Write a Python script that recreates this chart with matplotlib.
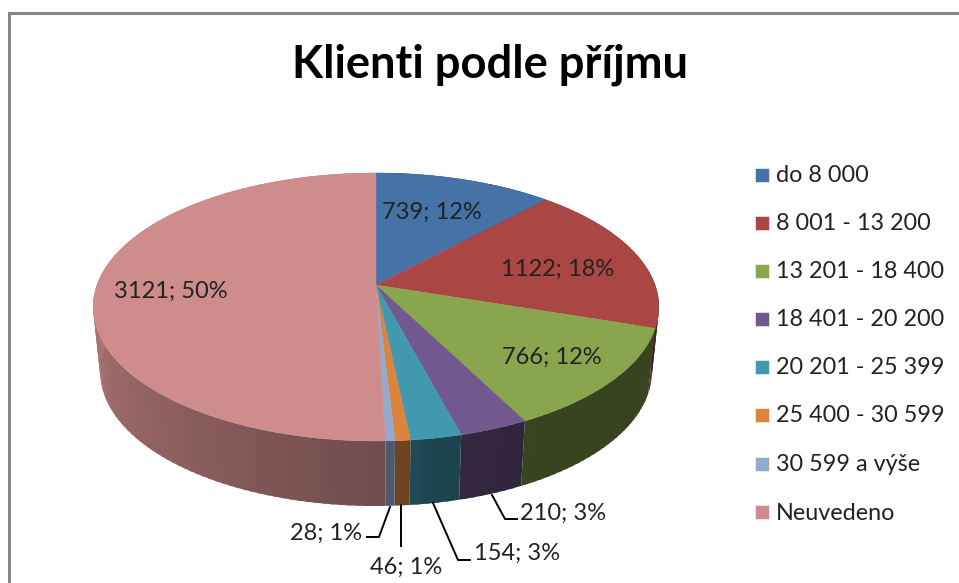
import numpy as np
import matplotlib
matplotlib.use('Agg')
import matplotlib.pyplot as plt
from matplotlib.patches import Rectangle
from matplotlib.colors import to_rgb

title = 'Klienti podle příjmu'
kategorie = ['do 8 000', '8 001 - 13 200', '13 201 - 18 400', '18 401 - 20 200',
             '20 201 - 25 399', '25 400 - 30 599', '30 599 a výše', 'Neuvedeno']
klienti = [739, 1122, 766, 210, 154, 46, 28, 3121]
procenta = [12, 18, 12, 3, 3, 1, 1, 50]
barvy = ['#4572A7', '#AA4643', '#89A54E', '#71588F', '#4198AF', '#DB843D', '#93A9CF', '#CF8C8C']

# label centres, pixels
label_pos = [(432, 212), (558, 269), (552, 357), (563, 513),
             (517, 553), (406, 567), (326, 533), (171, 291)]
# leader lines of the small slices
leaders = {3: [(492, 495), (505, 519), (517, 519)],
           4: [(433, 503), (458, 560), (470, 560)],
           5: [(401, 505), (401, 546)],
           6: [(390, 507), (379, 537), (367, 537)]}

legend_y = [174.5, 222.5, 270.5, 319, 367, 415, 463.5, 512]

# pie geometry in pixels
cx, cy = 376, 285
rx, ry = 279, 130.4
persp = 0.164
depth = 65
bottom_scale = 0.975


def top_rim(theta):
    # theta clockwise from the top, small perspective so the back looks shorter
    w = 1 + persp * np.cos(theta)
    return cx + rx * np.sin(theta) / w, cy - ry * np.cos(theta) / w


def side_shade(theta):
    return np.interp(np.degrees(theta), [100, 150, 170, 180, 275], [0.41, 0.41, 0.45, 0.55, 0.86])


fig = plt.figure(figsize=(9.59, 5.83), dpi=100)
ax = fig.add_axes([0, 0, 1, 1])
ax.set_xlim(0, 959)
ax.set_ylim(583, 0)
ax.axis('off')

# chart border, only left and top are in the crop
ax.plot([9, 9, 959], [583, 13, 13], color='#868686', lw=2.2, solid_joinstyle='miter')

hranice = np.cumsum([0] + klienti) / sum(klienti) * 2 * np.pi

# walls first, the top covers the back part
krok = np.radians(1.5)
for i in range(len(klienti)):
    n = max(int((hranice[i + 1] - hranice[i]) / krok), 1)
    t = np.linspace(hranice[i], hranice[i + 1], n + 1)
    for a, b in zip(t[:-1], t[1:]):
        # each piece runs a bit under the next one, no white seams
        konec = min(b + krok / 2, hranice[i + 1])
        s = np.linspace(a, konec, 4)
        x, y = top_rim(s)
        x2 = cx + (x - cx) * bottom_scale
        c = np.array(to_rgb(barvy[i])) * side_shade((a + b) / 2)
        ax.fill(np.r_[x, x2[::-1]], np.r_[y, (y + depth)[::-1]], facecolor=c,
                edgecolor='none', zorder=2)

for i in range(len(klienti)):
    t = np.linspace(hranice[i], hranice[i + 1], 200)
    x, y = top_rim(t)
    ax.fill(np.r_[cx, x], np.r_[cy, y], color=barvy[i], lw=0.3, zorder=3)

text_color = '#222222'
for i in range(len(klienti)):
    ax.text(label_pos[i][0], label_pos[i][1], '{}; {}%'.format(klienti[i], procenta[i]),
            ha='center', va='center', fontsize=17, family='Lato', color=text_color, zorder=5)
for k in leaders:
    p = np.array(leaders[k])
    ax.plot(p[:, 0], p[:, 1], color='black', lw=1.4, zorder=4)

# legend
for i in range(len(kategorie)):
    ax.add_patch(Rectangle((755, legend_y[i] - 7), 14, 14, facecolor=barvy[i],
                           edgecolor='white', lw=0.4))
    ax.text(776, legend_y[i] + 1, kategorie[i], ha='left', va='center', fontsize=16.8,
            family='Lato', color=text_color)

ax.text(490, 65, title, ha='center', va='center', fontsize=32.7, fontweight='bold',
        family='Lato', color='black')

fig.savefig('out.png', dpi=100)
